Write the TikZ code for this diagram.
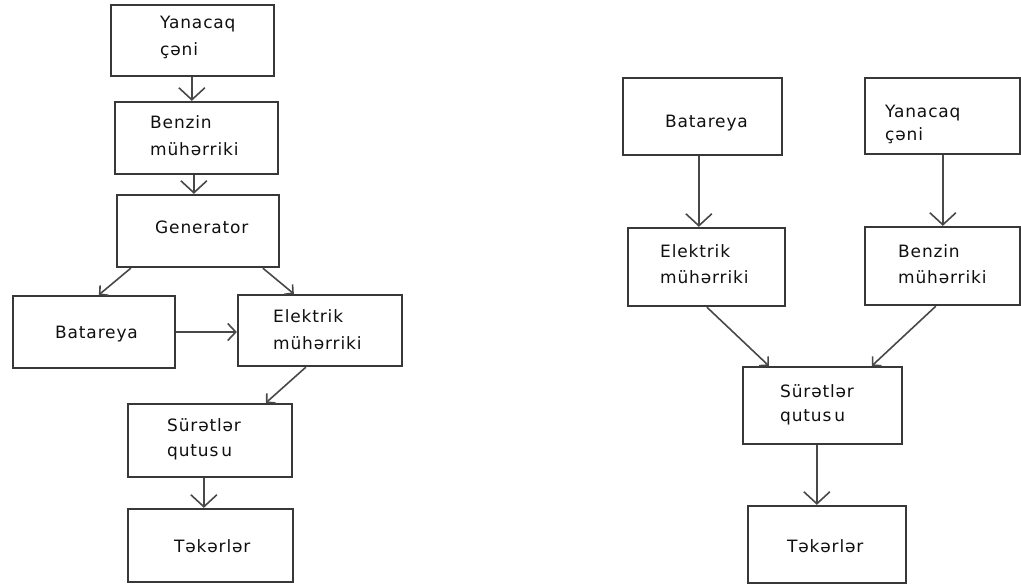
\documentclass[tikz,border=0pt]{standalone}
\usepackage{fontspec}
\setmainfont{DejaVu Sans}[LetterSpace=5]
\usetikzlibrary{arrows.meta}
\definecolor{boxline}{HTML}{383838}
\definecolor{arrline}{HTML}{484848}
\definecolor{txt}{HTML}{101010}
\begin{document}
\begin{tikzpicture}[x=1pt,y=-1pt,
  box/.style={draw=boxline, line width=2.3pt, fill=white, inner sep=0pt},
  lbl/.style={anchor=base west, inner sep=0pt, text=txt, font=\fontsize{17}{20}\selectfont},
  conn/.style={draw=arrline, line width=1.6pt},
  vtip/.style={conn, -{Straight Barb[length=12pt, width=26pt, line width=1.6pt]}},
  htip/.style={conn, -{Straight Barb[length=8pt, width=17pt, line width=1.6pt]}},
  dtip/.style={conn, -{Straight Barb[length=6pt, width=13pt, line width=1.6pt]}}]
\useasboundingbox (0,0) rectangle (1021,587);

% ---- series hybrid (left) ----
\node[box, minimum width=163pt, minimum height=71pt] (fuelL) at (192.5,40.5) {};
\node[box, minimum width=163pt, minimum height=72pt] (benzL) at (196.5,138) {};
\node[box, minimum width=162pt, minimum height=72pt] (genL)  at (198,231) {};
\node[box, minimum width=162pt, minimum height=72pt] (batL)  at (94,332) {};
\node[box, minimum width=164pt, minimum height=71pt] (elekL) at (320,330.5) {};
\node[box, minimum width=164pt, minimum height=73pt] (surL)  at (210,440.5) {};
\node[box, minimum width=165pt, minimum height=73pt] (tekL)  at (210.5,545.5) {};

\node[lbl] (fuelLa) at (160,28) {Yanacaq};
\node[lbl] (fuelLb) at (160,55) {çəni};
\node[lbl] (benzLa) at (150,128) {Benzin};
\node[lbl] (benzLb) at (150,155) {mühərriki};
\node[lbl] (genLa)  at (155,233) {Generator};
\node[lbl] (batLa)  at (55,338) {Batareya};
\node[lbl] (elekLa) at (273,322) {Elektrik};
\node[lbl] (elekLb) at (273,349) {mühərriki};
\node[lbl] (surLa)  at (167,431) {Sürətlər};
\node[lbl] (surLb)  at (167,456) {qutus\hspace{3pt}u};
\node[lbl] (tekLa)  at (174,552) {Təkərlər};

\draw[vtip] ([xshift=82pt]fuelL.south west) coordinate (p1) -- (p1 |- benzL.north);
\draw[vtip] ([xshift=80pt]benzL.south west) coordinate (p2) -- (p2 |- genL.north);
\draw[dtip] ([xshift=15pt]genL.south west) -- ([xshift=87pt]batL.north west);
\draw[dtip] ([xshift=147pt]genL.south west) -- ([xshift=57pt]elekL.north west);
\draw[htip] (batL.east) -- (elekL.west |- batL.east);
\draw[dtip] ([xshift=69pt]elekL.south west) -- ([xshift=139pt]surL.north west);
\draw[vtip] ([xshift=77pt]surL.south west) coordinate (p3) -- (p3 |- tekL.north);

% ---- parallel hybrid (right) ----
\node[box, minimum width=159pt, minimum height=77pt] (batR)  at (702.5,116.5) {};
\node[box, minimum width=155pt, minimum height=76pt] (fuelR) at (942.5,116) {};
\node[box, minimum width=157pt, minimum height=78pt] (elekR) at (706.5,267) {};
\node[box, minimum width=155pt, minimum height=78pt] (benzR) at (942.5,266) {};
\node[box, minimum width=159pt, minimum height=77pt] (surR)  at (822.5,405.5) {};
\node[box, minimum width=158pt, minimum height=77pt] (tekR)  at (827,544.5) {};

\node[lbl] (batRa)  at (665,127) {Batareya};
\node[lbl] (fuelRa) at (885,117) {Yanacaq};
\node[lbl] (fuelRb) at (885,140) {çəni};
\node[lbl] (elekRa) at (660,257) {Elektrik};
\node[lbl] (elekRb) at (660,283) {mühərriki};
\node[lbl] (benzRa) at (898,257) {Benzin};
\node[lbl] (benzRb) at (898,283) {mühərriki};
\node[lbl] (surRa)  at (780,397) {Sürətlər};
\node[lbl] (surRb)  at (780,421) {qutus\hspace{3pt}u};
\node[lbl] (tekRa)  at (787,552) {Təkərlər};

\draw[vtip] ([xshift=77pt]batR.south west) coordinate (q1) -- (q1 |- elekR.north);
\draw[vtip] ([xshift=79pt]fuelR.south west) coordinate (q2) -- (q2 |- benzR.north);
\draw[dtip] ([xshift=80pt]elekR.south west) -- ([xshift=27pt]surR.north west);
\draw[dtip] ([xshift=72pt]benzR.south west) -- ([xshift=130pt]surR.north west);
\draw[vtip] ([xshift=75pt]surR.south west) coordinate (q3) -- (q3 |- tekR.north);
\end{tikzpicture}
\end{document}
